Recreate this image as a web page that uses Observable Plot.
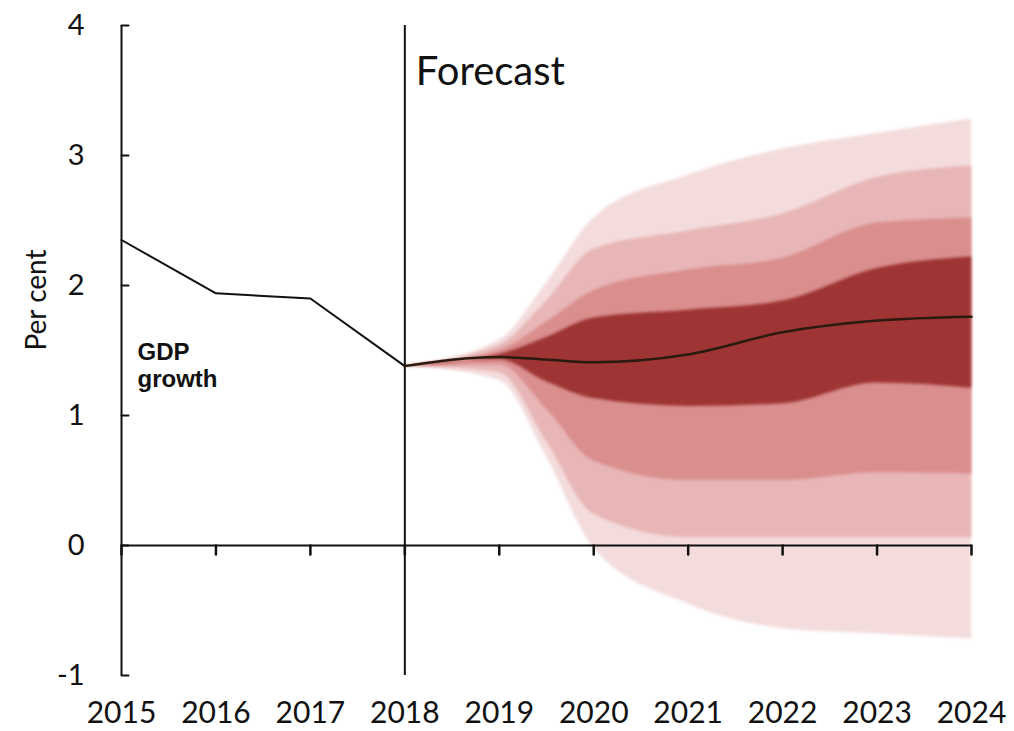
<!DOCTYPE html>
<html>
<head>
<meta charset="utf-8">
<script src="https://cdn.jsdelivr.net/npm/d3@7"></script>
<script src="https://cdn.jsdelivr.net/npm/@observablehq/plot@0.6"></script>
<style>
  html, body { margin: 0; padding: 0; background: #ffffff; }
  #chart svg { display: block; }
</style>
</head>
<body>
<div id="chart"></div>
<script>
// Axis ticks
const years = [2015, 2016, 2017, 2018, 2019, 2020, 2021, 2022, 2023, 2024];
const yTicks = [-1, 0, 1, 2, 3, 4];

// Outturn GDP growth, per cent
const histYears = [2015, 2016, 2017, 2018];
const histGrowth = [2.35, 1.94, 1.90, 1.38];

// Forecast: central projection and probability bands (inner to outer)
const fcYears   = [2018, 2019, 2019.5, 2020, 2021, 2022, 2023, 2024];
const fcCentral = [1.38, 1.45, 1.43, 1.41, 1.47, 1.64, 1.73, 1.76];
const band1Low  = [1.38, 1.43, 1.26, 1.13, 1.07, 1.09, 1.25, 1.21];
const band1High = [1.38, 1.47, 1.60, 1.75, 1.81, 1.88, 2.13, 2.22];
const band2Low  = [1.38, 1.39, 1.05, 0.65, 0.50, 0.50, 0.56, 0.55];
const band2High = [1.38, 1.50, 1.72, 1.96, 2.12, 2.21, 2.48, 2.52];
const band3Low  = [1.38, 1.33, 0.80, 0.24, 0.06, 0.06, 0.06, 0.06];
const band3High = [1.38, 1.54, 1.88, 2.28, 2.42, 2.55, 2.83, 2.92];
const band4Low  = [1.38, 1.27, 0.68, -0.02, -0.45, -0.64, -0.68, -0.72];
const band4High = [1.38, 1.58, 2.02, 2.52, 2.85, 3.05, 3.17, 3.28];

const bandColors = ["#9e3434", "#da8e8e", "#e8b6b6", "#f4dcdd"];

const history = histYears.map((x, i) => ({x, y: histGrowth[i]}));
const forecast = fcYears.map((x, i) => ({
  x, c: fcCentral[i],
  l1: band1Low[i], h1: band1High[i],
  l2: band2Low[i], h2: band2High[i],
  l3: band3Low[i], h3: band3High[i],
  l4: band4Low[i], h4: band4High[i]
}));

const font = "Lato, 'Open Sans', sans-serif";
const curve = "monotone-x";

// Short straight stroke used for the tick marks
const tickShape = {draw(context, l) { context.moveTo(0, 0); context.lineTo(0, -l); }};

const band = (lo, hi, fill) =>
  Plot.areaY(forecast, {x: "x", y1: lo, y2: hi, fill, curve});

const chart = Plot.plot({
  width: 1014,
  height: 731,
  marginTop: 25,
  marginBottom: 56,
  marginLeft: 121,
  marginRight: 43,
  style: {fontFamily: font, background: "#ffffff", color: "#111"},
  x: {domain: [years[0], years[years.length - 1]]},
  y: {domain: [yTicks[0], yTicks[yTicks.length - 1]]},
  marks: [
    // fan bands, outermost first
    band("l4", "h4", bandColors[3]),
    band("l3", "h3", bandColors[2]),
    band("l2", "h2", bandColors[1]),
    band("l1", "h1", bandColors[0]),

    // tick labels
    Plot.axisX({ticks: years, tickFormat: "d", tickSize: 0, tickPadding: 26,
      fontSize: 30, label: null, fill: "#111"}),
    Plot.axisY({ticks: yTicks, tickFormat: d => String(d), tickSize: 0,
      tickPadding: 37, fontSize: 29, label: null, fill: "#111"}),

    // left axis line with inward ticks
    Plot.ruleX([years[0]], {y1: yTicks[0], y2: yTicks[yTicks.length - 1], stroke: "#111", strokeWidth: 2}),
    Plot.vector(yTicks, {x: years[0], y: d => d, length: 7, rotate: 90, anchor: "start",
      shape: tickShape, stroke: "#111", strokeWidth: 2}),

    // zero line with year ticks below it
    Plot.ruleY([0], {x1: years[0], x2: years[years.length - 1], stroke: "#111", strokeWidth: 2}),
    Plot.vector(years, {x: d => d, y: 0, length: 9, rotate: 180, anchor: "start",
      shape: tickShape, stroke: "#111", strokeWidth: 2.5}),

    // start of the forecast period
    Plot.ruleX([2018], {y1: yTicks[0], y2: yTicks[yTicks.length - 1], stroke: "#111", strokeWidth: 2}),

    // outturn and central projection
    Plot.line(history, {x: "x", y: "y", stroke: "#111", strokeWidth: 2}),
    Plot.line(forecast, {x: "x", y: "c", stroke: "#2a1a10", strokeWidth: 2.5, curve}),

    // annotations
    Plot.text(["Forecast"], {x: 2018, y: 4, dx: 11, dy: 31, text: d => d, textAnchor: "start",
      lineAnchor: "top", fontSize: 40, fontFamily: font, fill: "#111"}),
    Plot.text(["GDP\ngrowth"], {x: 2015, y: 1.39, dx: 16, text: d => d, textAnchor: "start",
      lineAnchor: "middle", lineHeight: 1.12, fontSize: 24, fontWeight: "bold",
      fontFamily: "'Liberation Sans', Arial, sans-serif", fill: "#111"}),
    Plot.text(["Per cent"], {frameAnchor: "left", dx: -84, rotate: -90, text: d => d,
      fontSize: 28, fontFamily: font, fill: "#111"})
  ]
});

// Soften the edges of the fan bands slightly
chart.querySelectorAll('g[aria-label="area"]').forEach(g => { g.style.filter = "blur(1.5px)"; });

document.getElementById("chart").appendChild(chart);
</script>
</body>
</html>
